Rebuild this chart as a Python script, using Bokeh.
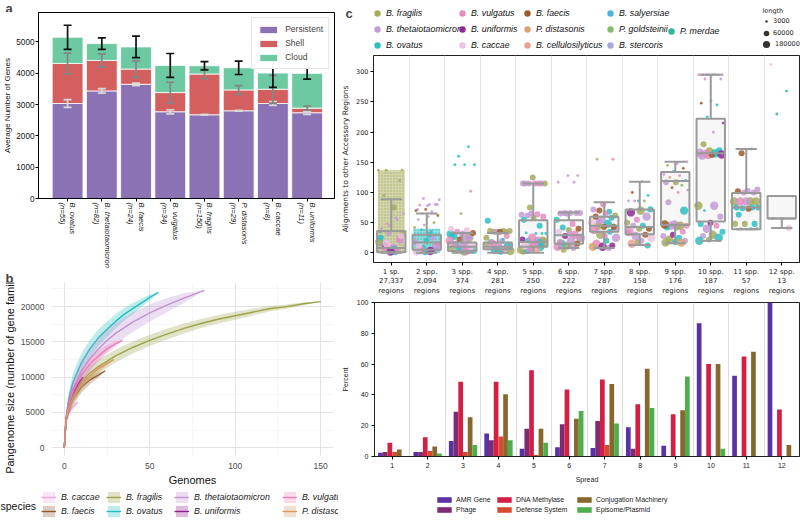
import numpy as np
from bokeh.plotting import figure
from bokeh.models import (ColumnDataSource, Range1d, FixedTicker, Legend, LegendItem,
                          Label, Whisker, TeeHead)
from bokeh.layouts import row, column
from bokeh.embed import file_html
from bokeh.resources import INLINE

SANS = "Liberation Sans"
MPL = "DejaVu Sans"

# ---------------- panel a data ----------------
a_species = ["B. ovatus", "B. thetaiotaomicron", "B. faecis", "B. vulgatus",
             "B. fragilis", "P. distasonis", "B. caccae", "B. uniformis"]
a_n = [55, 82, 24, 34, 150, 29, 8, 11]
a_persistent = [3034, 3436, 3647, 2770, 2674, 2801, 3034, 2738]
a_shell = [1279, 972, 486, 613, 1301, 666, 454, 148]
a_cloud = [835, 539, 708, 867, 264, 708, 518, 1110]
a_persistent_err = [125, 70, 40, 65, 10, 15, 60, 50]
a_shell_err = [330, 210, 265, 330, 150, 140, 445, 65]
a_cloud_err = [385, 185, 345, 380, 135, 215, 460, 185]

# ---------------- panel b data ----------------
caccae_g = [0, 1, 2, 3, 5, 8]
caccae_v = [0, 3800, 4600, 5100, 5800, 6500]
caccae_sd = [0, 600, 700, 700, 600, 0]
faecis_g = [0, 1, 2, 3, 5, 10, 15, 20, 24]
faecis_v = [0, 3800, 5000, 5800, 6900, 8600, 9600, 10300, 10900]
faecis_sd = [0, 600, 800, 900, 900, 800, 600, 400, 0]
fragilis_g = [0, 1, 2, 3, 5, 10, 15, 20, 30, 40, 50, 60, 70, 80, 90, 100, 110, 120, 130, 140, 150]
fragilis_v = [0, 3800, 5000, 5900, 7200, 9300, 10600, 11500, 13000, 14200, 15200, 16100,
              16900, 17600, 18200, 18700, 19200, 19700, 20000, 20400, 20700]
fragilis_sd = [0, 500, 700, 800, 900, 1000, 1000, 950, 900, 850, 800, 750, 700, 650, 600,
               550, 500, 400, 300, 200, 0]
ovatus_g = [0, 1, 2, 3, 5, 10, 15, 20, 25, 30, 35, 40, 45, 50, 55]
ovatus_v = [0, 4200, 6000, 7300, 9200, 12000, 14000, 15600, 16800, 17900, 18900, 19700,
            20500, 21300, 22000]
ovatus_sd = [0, 600, 900, 1100, 1300, 1400, 1300, 1200, 1100, 1000, 900, 800, 600, 400, 0]
theta_g = [0, 1, 2, 3, 5, 10, 15, 20, 25, 30, 40, 50, 60, 70, 82]
theta_v = [0, 4000, 5500, 6600, 8200, 10800, 12600, 14000, 15200, 16200, 17800, 19100,
           20200, 21200, 22300]
theta_sd = [0, 700, 1000, 1300, 1500, 1700, 1700, 1600, 1600, 1500, 1400, 1200, 1000, 700, 0]
uniformis_g = [0, 1, 2, 3, 5, 8, 11]
uniformis_v = [0, 4000, 5300, 6300, 7600, 9000, 10000]
uniformis_sd = [0, 700, 900, 1000, 900, 600, 0]
vulgatus_g = [0, 1, 2, 3, 5, 10, 15, 20, 25, 30, 34]
vulgatus_v = [0, 4000, 5500, 6500, 8000, 10300, 11900, 13000, 14000, 14700, 15200]
vulgatus_sd = [0, 600, 800, 900, 1000, 1000, 900, 800, 600, 400, 0]
distasonis_g = [0, 1, 2, 3, 5, 10, 15, 20, 25, 29]
distasonis_v = [0, 3800, 5000, 5800, 7000, 8900, 10200, 11200, 11900, 12500]
distasonis_sd = [0, 500, 600, 700, 700, 700, 600, 500, 300, 0]
b_species = ["B. caccae", "B. faecis", "B. fragilis", "B. ovatus",
             "B. thetaiotaomicron", "B. uniformis", "B. vulgatus", "P. distasonis"]

# ---------------- panel c (top) data ----------------
c_spread = [1, 2, 3, 4, 5, 6, 7, 8, 9, 10, 11, 12]
c_regions = [27337, 2094, 374, 281, 250, 222, 287, 158, 176, 187, 57, 13]
box_q1 = [1, 5, 3, 6, 10, 15, 35, 31, 46, 52, 39, 57]
box_med = [8, 17, 10, 10, 18, 29, 45, 43, 119, 165, 75, 57]
box_q3 = [36, 30, 17, 17, 54, 54, 60, 72, 134, 222, 99, 94]
box_lo = [0, 0, 0, 0, 0, 8, 8, 13, 16, 20, 39, 41]
box_hi = [89, 65, 33, 33, 115, 67, 84, 118, 151, 295, 172, 94]
# dense clouds of tiny points: spread, low, high, species
dense_spread = [1, 2]
dense_lo = [0, 0]
dense_hi = [137, 40]
dense_sp = ["fra", "ova"]

strip_1 = [(137, 'fra', 3000), (5, 'ova', 150000), (10, 'vul', 150000), (20, 'the', 60000), (2, 'uni', 150000),
           (25, 'ova', 60000), (3, 'vul', 60000), (15, 'cac', 150000), (30, 'fra', 60000), (8, 'the', 150000),
           (12, 'ova', 60000), (22, 'vul', 60000), (33, 'the', 60000), (18, 'fra', 150000), (1, 'ova', 60000),
           (12, 'uni', 60000), (28, 'cac', 60000), (6, 'the', 60000), (40, 'the', 3000), (55, 'the', 3000),
           (48, 'vul', 3000), (65, 'the', 3000), (75, 'fra', 60000), (95, 'fra', 3000), (120, 'fra', 3000),
           (45, 'the', 3000), (35, 'ova', 3000), (58, 'the', 3000), (137, 'fra', 3000), (137, 'fra', 3000)]
strip_2 = [(90, 'the', 3000), (88, 'the', 3000), (80, 'the', 3000), (79, 'vul', 3000), (80, 'the', 3000),
           (72, 'fae', 3000), (70, 'fae', 3000), (68, 'the', 3000), (65, 'cac', 3000), (62, 'fae', 3000),
           (60, 'the', 3000), (55, 'the', 3000), (50, 'fra', 3000), (46, 'the', 3000), (42, 'fra', 3000),
           (3, 'uni', 150000), (5, 'vul', 150000), (10, 'the', 150000), (20, 'ova', 60000), (2, 'cac', 150000),
           (25, 'the', 60000), (8, 'ova', 60000), (15, 'vul', 60000), (30, 'ova', 60000), (12, 'cac', 60000),
           (6, 'the', 60000), (1, 'ova', 60000), (18, 'the', 60000), (35, 'ova', 3000), (38, 'ova', 3000),
           (80, 'the', 3000), (78, 'the', 3000), (72, 'the', 3000)]
strip_3 = [(176, 'ova', 3000), (160, 'ova', 3000), (146, 'ova', 3000), (146, 'ova', 3000), (146, 'ova', 3000),
           (102, 'vul', 3000), (65, 'fra', 3000), (40, 'cac', 60000), (38, 'cac', 60000), (35, 'vul', 60000),
           (33, 'fae', 60000), (30, 'the', 150000), (28, 'ova', 150000), (25, 'fra', 150000), (22, 'fae', 60000),
           (20, 'vul', 150000), (18, 'the', 150000), (15, 'ova', 60000), (12, 'cac', 150000), (10, 'the', 150000),
           (8, 'fra', 60000), (5, 'vul', 150000), (5, 'ova', 60000), (3, 'ova', 60000), (2, 'fra', 150000),
           (14, 'vul', 60000), (26, 'the', 60000), (7, 'the', 60000), (31, 'ova', 150000), (1, 'the', 60000)]
strip_4 = [(53, 'ova', 60000), (36, 'fra', 60000), (35, 'fra', 60000), (36, 'fra', 60000), (35, 'fae', 60000),
           (36, 'fra', 60000), (34, 'fra', 60000), (35, 'the', 60000), (25, 'fra', 60000), (20, 'the', 60000),
           (15, 'vul', 150000), (12, 'ova', 150000), (10, 'the', 150000), (8, 'cac', 60000), (7, 'vul', 60000),
           (5, 'ova', 150000), (3, 'fra', 150000), (2, 'ova', 60000), (18, 'ova', 60000), (28, 'vul', 60000),
           (4, 'the', 60000), (14, 'fra', 60000), (22, 'ova', 3000)]
strip_5 = [(125, 'fra', 60000), (115, 'the', 60000), (115, 'vul', 60000), (115, 'the', 60000), (115, 'fra', 60000),
           (115, 'vul', 60000), (115, 'the', 60000), (115, 'the', 60000), (65, 'the', 60000), (63, 'the', 60000),
           (64, 'vul', 60000), (62, 'the', 60000), (60, 'vul', 60000), (58, 'fra', 60000), (55, 'ova', 60000),
           (45, 'ova', 60000), (75, 'fra', 60000), (32, 'ova', 3000), (32, 'ova', 3000), (33, 'ova', 3000),
           (32, 'ova', 3000), (25, 'vul', 150000), (22, 'uni', 60000), (20, 'the', 150000), (20, 'ova', 60000),
           (18, 'fra', 150000), (15, 'vul', 150000), (12, 'cac', 150000), (10, 'ova', 150000), (8, 'the', 150000),
           (5, 'fra', 150000), (5, 'cel', 60000), (3, 'ova', 60000), (22, 'fra', 60000), (14, 'the', 60000),
           (2, 'fra', 60000), (16, 'ova', 150000), (7, 'vul', 60000)]
strip_6 = [(128, 'the', 3000), (128, 'the', 3000), (117, 'the', 3000), (117, 'the', 3000), (66, 'the', 60000),
           (66, 'the', 60000), (66, 'the', 60000), (65, 'the', 60000), (66, 'the', 60000), (65, 'the', 60000),
           (55, 'ova', 60000), (48, 'vul', 60000), (42, 'ova', 60000), (40, 'fae', 60000), (38, 'fra', 60000),
           (35, 'cac', 60000), (30, 'vul', 150000), (28, 'uni', 60000), (25, 'the', 150000), (20, 'the', 150000),
           (15, 'ova', 150000), (15, 'fae', 60000), (12, 'fra', 150000), (10, 'vul', 150000), (8, 'the', 60000),
           (5, 'fra', 60000), (22, 'fra', 60000), (32, 'the', 60000), (18, 'vul', 60000)]
strip_7 = [(155, 'dis', 3000), (155, 'vul', 3000), (80, 'vul', 60000), (72, 'the', 60000), (68, 'ova', 60000),
           (70, 'fae', 60000), (62, 'fra', 60000), (65, 'vul', 60000), (60, 'fae', 60000), (58, 'ova', 60000),
           (55, 'the', 150000), (50, 'cac', 150000), (48, 'ova', 150000), (45, 'fra', 150000), (43, 'fae', 60000),
           (43, 'fae', 60000), (38, 'vul', 150000), (35, 'ova', 60000), (30, 'fra', 150000), (25, 'the', 150000),
           (20, 'ova', 60000), (15, 'vul', 150000), (12, 'uni', 60000), (10, 'uni', 150000), (10, 'dis', 150000),
           (8, 'the', 60000), (52, 'the', 60000), (40, 'the', 60000), (28, 'vul', 60000)]
strip_8 = [(118, 'the', 3000), (100, 'fae', 3000), (95, 'ova', 3000), (86, 'ova', 3000), (86, 'the', 3000),
           (86, 'fra', 3000), (86, 'vul', 3000), (72, 'ova', 60000), (70, 'fra', 150000), (67, 'uni', 150000),
           (60, 'the', 150000), (55, 'vul', 60000), (50, 'fra', 60000), (45, 'ova', 60000), (45, 'the', 60000),
           (40, 'fae', 60000), (40, 'fra', 60000), (35, 'vul', 150000), (30, 'fae', 60000), (28, 'the', 150000),
           (25, 'cac', 150000), (20, 'the', 60000), (15, 'cel', 150000), (12, 'ova', 60000), (18, 'fra', 60000),
           (33, 'the', 60000)]
strip_9 = [(151, 'the', 3000), (148, 'vul', 3000), (145, 'fra', 3000), (140, 'fae', 3000), (135, 'ova', 3000),
           (130, 'the', 3000), (128, 'vul', 3000), (125, 'dis', 3000), (120, 'ova', 3000), (117, 'fra', 60000),
           (117, 'the', 60000), (112, 'gol', 3000), (108, 'fae', 3000), (104, 'the', 3000), (100, 'vul', 3000),
           (84, 'the', 60000), (70, 'ova', 150000), (47, 'the', 150000), (47, 'fae', 150000), (45, 'fra', 150000),
           (45, 'the', 150000), (45, 'vul', 60000), (44, 'fra', 150000), (42, 'ova', 60000), (35, 'vul', 60000),
           (30, 'uni', 60000), (28, 'the', 60000), (25, 'ova', 60000), (22, 'fra', 150000), (20, 'the', 60000),
           (18, 'ova', 60000), (17, 'fra', 150000), (17, 'dis', 150000)]
strip_10 = [(295, 'the', 3000), (295, 'vul', 3000), (295, 'fra', 3000), (295, 'the', 3000), (295, 'cac', 3000),
            (295, 'the', 3000), (295, 'vul', 3000), (295, 'the', 3000), (288, 'vul', 3000), (288, 'the', 3000),
            (252, 'ova', 3000), (248, 'fae', 3000), (245, 'ova', 3000), (225, 'ova', 3000), (215, 'uni', 3000),
            (200, 'the', 3000), (180, 'fra', 60000), (170, 'ova', 60000), (168, 'fra', 150000), (166, 'the', 150000),
            (165, 'ova', 150000), (164, 'vul', 150000), (163, 'uni', 150000), (162, 'fae', 60000), (161, 'the', 150000),
            (165, 'ova', 60000), (160, 'vul', 60000), (78, 'fra', 150000), (78, 'the', 150000), (70, 'ova', 3000),
            (60, 'the', 60000), (50, 'uni', 60000), (48, 'ova', 60000), (45, 'vul', 60000), (40, 'the', 150000),
            (35, 'ova', 60000), (30, 'fra', 150000), (28, 'the', 60000), (25, 'ova', 150000), (22, 'fra', 60000),
            (20, 'ova', 150000)]
strip_11 = [(172, 'ova', 3000), (165, 'fae', 60000), (105, 'the', 60000), (103, 'the', 60000), (102, 'fae', 60000),
            (100, 'the', 60000), (100, 'the', 60000), (85, 'fra', 150000), (85, 'fra', 150000), (85, 'vul', 150000),
            (85, 'fra', 150000), (85, 'the', 150000), (75, 'ova', 60000), (75, 'ova', 60000), (74, 'ova', 60000),
            (75, 'ova', 60000), (73, 'fae', 60000), (63, 'ova', 60000), (48, 'ova', 60000), (48, 'fra', 60000),
            (48, 'fra', 60000), (40, 'ova', 3000), (40, 'fra', 3000), (40, 'ova', 3000)]
strip_12 = [(312, 'cac', 3000), (268, 'mer', 3000), (230, 'mer', 3000), (94, 'ova', 3000), (57, 'the', 3000),
            (57, 'vul', 3000), (41, 'cac', 60000)]
strips = [strip_1, strip_2, strip_3, strip_4, strip_5, strip_6, strip_7, strip_8, strip_9,
          strip_10, strip_11, strip_12]

c_codes = ["fra", "the", "ova", "vul", "uni", "cac", "fae", "dis", "cel", "sal", "gol", "ste", "mer"]
c_names = ["B. fragilis", "B. thetaiotaomicron", "B. ovatus", "B. vulgatus", "B. uniformis",
           "B. caccae", "B. faecis", "P. distasonis", "B. cellulosilyticus", "B. salyersiae",
           "P. goldsteinii", "B. stercoris", "P. merdae"]
size_lengths = [3000, 60000, 180000]

# ---------------- panel c (bottom) data ----------------
amr = [2.5, 3, 10, 15, 5, 6, 5.5, 19, 7, 86.5, 52.5, 100]
phage = [3, 3, 29, 10.5, 18, 21, 23, 5, 0, 0, 0, 0]
dna_methylase = [9, 12.5, 48.5, 48.5, 56, 43.5, 50, 34, 27.5, 60, 65, 30.5]
defense = [3, 3.5, 3, 13, 1, 0, 7.5, 0, 0, 0, 0, 0]
conjugation = [4.5, 6.5, 25.5, 40.5, 18, 24.5, 47, 57, 30, 60, 68, 7.5]
episome = [0, 2, 7.5, 10.5, 9, 29.5, 21.5, 31.5, 52, 5, 0, 0]
func_names = ["AMR Gene", "Phage", "DNA Methylase", "Defense System",
              "Conjugation Machinery", "Episome/Plasmid"]

# ---------------- styles ----------------
C_SP = {"fra": "#A6AC5E", "the": "#C49BD4", "ova": "#2DBFC2", "vul": "#E58CC0", "uni": "#8E2A95",
        "cac": "#EBC3DF", "fae": "#9A5A2B", "dis": "#D9A26E", "cel": "#E8A090", "sal": "#4DB2E0",
        "gol": "#84BD6C", "ste": "#A9A7DD", "mer": "#2BB59A"}
C_B = ["#EAAAD8", "#8C5A2E", "#9DA348", "#22BFC0", "#C091D2", "#8F1E8F", "#EA7FB9", "#D39A62"]
C_FUNC = ["#5A32A6", "#7D2B72", "#D41E44", "#D64B2F", "#86682C", "#4FAE4C"]


def no_align(p):
    try:
        p.frame_align = False
    except Exception:
        pass
    return p


def base_fig(**kw):
    p = figure(output_backend="svg", toolbar_location=None, **kw)
    p.background_fill_color = "white"
    p.border_fill_color = "white"
    return no_align(p)


def strip_fig(w, h):
    p = figure(frame_width=w, frame_height=h, x_range=Range1d(0, 1), y_range=Range1d(0, 1),
               x_axis_type=None, y_axis_type=None, output_backend="svg",
               toolbar_location=None, min_border=0, min_border_left=0, min_border_right=0,
               min_border_top=0, min_border_bottom=0)
    p.outline_line_color = None
    p.background_fill_color = "white"
    p.border_fill_color = "white"
    return no_align(p)


def letter(p, x, y, t):
    p.add_layout(Label(x=x, y=y, x_units="screen", y_units="screen", text=t, text_font=SANS,
                       text_font_size="13px", text_font_style="bold", text_baseline="top"))


def plain_legend(lg, font, size, style="normal", color="#111111"):
    lg.label_text_font = font
    lg.label_text_font_size = size
    lg.label_text_font_style = style
    lg.label_text_color = color
    lg.padding = 0
    lg.margin = 0
    lg.border_line_color = None
    lg.background_fill_alpha = 0


def style_axis(ax, font, size, color="#111111"):
    ax.major_label_text_font = font
    ax.major_label_text_font_size = size
    ax.major_label_text_color = color
    ax.axis_label_text_font = font
    ax.axis_label_text_font_style = "normal"
    ax.axis_label_text_color = color
    ax.minor_tick_line_color = None


# off-range anchor for legend-only renderers in the strip figures
OFF = [5.0]
OFF2 = [5.0, 6.0]
LEFT_W = 338
RIGHT_W = 462

# ================= panel a =================
xa = np.arange(len(a_species))
p_top = np.array(a_persistent, float)
s_top = p_top + np.array(a_shell)
c_top = s_top + np.array(a_cloud)
pe = np.array(a_persistent_err)
se = np.array(a_shell_err)
ce = np.array(a_cloud_err)
src_a = ColumnDataSource(dict(x=xa, p0=np.zeros(len(xa)), p1=p_top, s1=s_top, c1=c_top,
                              pl=p_top - pe, ph=p_top + pe, sl=s_top - se, sh=s_top + se,
                              cl=c_top - ce, ch=c_top + ce))
sa = strip_fig(LEFT_W, 12)
letter(sa, 5, 12, "a")

pa = base_fig(width=LEFT_W, height=258, x_range=Range1d(-0.85, 7.8), y_range=Range1d(0, 5940),
              min_border_left=35, min_border_right=4, min_border_top=0, min_border_bottom=71)
r_per = pa.vbar(x="x", width=0.9, bottom="p0", top="p1", source=src_a,
                fill_color="#8A72B5", line_color="white", line_width=0.8)
r_she = pa.vbar(x="x", width=0.9, bottom="p1", top="s1", source=src_a,
                fill_color="#D35F5F", line_color="white", line_width=0.8)
r_clo = pa.vbar(x="x", width=0.9, bottom="s1", top="c1", source=src_a,
                fill_color="#6DC9A1", line_color="white", line_width=0.8)
for lo, hi, col in [("pl", "ph", "#d8d8d8"), ("sl", "sh", "#858585"), ("cl", "ch", "#111111")]:
    w = Whisker(source=src_a, base="x", lower=lo, upper=hi, line_color=col, line_width=1.7,
                upper_head=TeeHead(size=8, line_color=col, line_width=1.7),
                lower_head=TeeHead(size=8, line_color=col, line_width=1.7))
    w.level = "overlay"
    pa.add_layout(w)
leg_a = Legend(items=[LegendItem(label="Persistent", renderers=[r_per]),
                      LegendItem(label="Shell", renderers=[r_she]),
                      LegendItem(label="Cloud", renderers=[r_clo])],
               location="top_right")
leg_a.label_text_font = SANS
leg_a.label_text_font_size = "8.5px"
leg_a.glyph_width = 22
leg_a.glyph_height = 9
leg_a.label_height = 12
leg_a.spacing = 2
leg_a.padding = 5
leg_a.margin = 5
leg_a.label_standoff = 6
leg_a.border_line_color = "#cccccc"
pa.add_layout(leg_a)
pa.grid.visible = False
pa.outline_line_color = "black"
pa.xaxis.ticker = FixedTicker(ticks=list(range(len(a_species))))
pa.xaxis.major_label_overrides = {int(i): f"{s}\n(n={n})" for i, (s, n) in enumerate(zip(a_species, a_n))}
pa.xaxis.major_label_orientation = "vertical"
pa.yaxis.ticker = FixedTicker(ticks=[0, 1000, 2000, 3000, 4000, 5000])
pa.yaxis.axis_label = "Average Number of Genes"
style_axis(pa.xaxis[0], SANS, "7.6px")
style_axis(pa.yaxis[0], SANS, "8.2px")
pa.xaxis.major_label_text_font_style = "italic"
pa.yaxis.axis_label_text_font_size = "8px"
pa.yaxis.axis_label_standoff = 1
for ax in (pa.xaxis[0], pa.yaxis[0]):
    ax.major_tick_out = 3
    ax.major_tick_in = 0
    ax.major_label_standoff = 1

sb = strip_fig(LEFT_W, 12)
letter(sb, 5, 12, "b")

# ================= panel b =================
pb = base_fig(width=LEFT_W, height=206, x_range=Range1d(-7.5, 157.5), y_range=Range1d(-1115, 23415),
              min_border_left=44, min_border_right=5, min_border_top=0, min_border_bottom=32)
pb.outline_line_color = None
b_series = [(caccae_g, caccae_v, caccae_sd), (faecis_g, faecis_v, faecis_sd),
            (fragilis_g, fragilis_v, fragilis_sd), (ovatus_g, ovatus_v, ovatus_sd),
            (theta_g, theta_v, theta_sd), (uniformis_g, uniformis_v, uniformis_sd),
            (vulgatus_g, vulgatus_v, vulgatus_sd), (distasonis_g, distasonis_v, distasonis_sd)]
for (g, v, sd), name, col in zip(b_series, b_species, C_B):
    g = np.array(g, float); v = np.array(v, float); sd = np.array(sd, float)
    pb.varea(x=g, y1=v - sd, y2=v + sd, fill_color=col, fill_alpha=0.3)
    pb.line(x=g, y=v, line_color=col, line_width=1.4)
pb.xaxis.ticker = FixedTicker(ticks=[0, 50, 100, 150], minor_ticks=[25, 75, 125])
pb.yaxis.ticker = FixedTicker(ticks=[0, 5000, 10000, 15000, 20000],
                              minor_ticks=[2500, 7500, 12500, 17500, 22500])
pb.xaxis.axis_label = "Genomes"
pb.yaxis.axis_label = "Pangenome size (number of gene families)"
for ax in (pb.xaxis[0], pb.yaxis[0]):
    style_axis(ax, SANS, "8.5px", "#4D4D4D")
    ax.axis_line_color = None
    ax.major_tick_line_color = None
    ax.major_tick_out = 0
    ax.major_tick_in = 0
    ax.axis_label_text_font_size = "11px"
    ax.axis_label_text_color = "#111111"
    ax.major_label_standoff = 3
    ax.axis_label_standoff = 2
for gr in (pb.xgrid[0], pb.ygrid[0]):
    gr.grid_line_color = "#E3E3E3"
    gr.grid_line_width = 1
    gr.minor_grid_line_color = "#F0F0F0"
    gr.minor_grid_line_width = 0.6

# legend strip for b  (legend location = bottom-left corner, measured from the strip bottom)
LB_H = 32
lb = strip_fig(LEFT_W, LB_H)
b_items = []
for name, col in zip(b_species, C_B):
    ra = lb.varea(x=OFF2, y1=[0, 0], y2=[1, 1], fill_color=col, fill_alpha=0.3)
    rl = lb.line(x=OFF2, y=[0, 0], line_color=col, line_width=1.4)
    b_items.append(LegendItem(label=name, renderers=[ra, rl]))
b_col_x = [41, 106, 174, 282]
for k in range(4):
    lg = Legend(items=[b_items[k * 2], b_items[k * 2 + 1]], location=(b_col_x[k], LB_H - 2 - 28),
                orientation="vertical")
    plain_legend(lg, SANS, "8.8px", "italic", "#1a1a1a")
    lg.glyph_width = 15
    lg.glyph_height = 14
    lg.label_height = 14
    lg.spacing = 0
    lg.label_standoff = 5
    lb.add_layout(lg)
lb.add_layout(Label(x=0, y=LB_H - 17, x_units="screen", y_units="screen", text="species",
                    text_font=SANS, text_font_size="10.5px", text_baseline="middle", text_color="#111111"))

# ================= panel c legend strip =================
LC_H = 54
lc = strip_fig(RIGHT_W, LC_H)
letter(lc, 7, LC_H - 5, "c")
col_groups = [["fra", "the", "ova"], ["vul", "uni", "cac"], ["fae", "dis", "cel"],
              ["sal", "gol", "ste"], ["mer"]]
col_x = [31, 116, 181, 264, 325]
col_top = [9, 9, 9, 9, 23]
for grp, gx, gt in zip(col_groups, col_x, col_top):
    items = []
    for c in grp:
        rr = lc.scatter(x=OFF, y=OFF, fill_color=C_SP[c], line_color=None)
        items.append(LegendItem(label=c_names[c_codes.index(c)], renderers=[rr]))
    h = 16 * len(grp) - 2 * (len(grp) - 1)
    lg = Legend(items=items, location=(gx, LC_H - gt - h), orientation="vertical")
    plain_legend(lg, SANS, "8.8px", "italic")
    lg.glyph_width = 16
    lg.glyph_height = 16
    lg.label_height = 12
    lg.spacing = -2
    lg.label_standoff = 1
    lc.add_layout(lg)
size_boxes = [6, 14, 18]
size_centers = [22, 33, 44]
for ln, bx, cy in zip(size_lengths, size_boxes, size_centers):
    rr = lc.scatter(x=OFF, y=OFF, fill_color="#333333", line_color=None)
    lg = Legend(items=[LegendItem(label=str(ln), renderers=[rr])],
                location=(428 - bx / 2, LC_H - cy - bx / 2))
    plain_legend(lg, MPL, "6.5px", "normal", "#222222")
    lg.glyph_width = bx
    lg.glyph_height = bx
    lg.label_height = bx
    lg.label_standoff = max(0, int(7 - bx / 2))
    lc.add_layout(lg)
lc.add_layout(Label(x=424, y=LC_H - 6, x_units="screen", y_units="screen", text="length",
                    text_font=MPL, text_font_size="6.5px", text_baseline="top", text_color="#222222"))

# ================= panel c top =================
pc1 = base_fig(width=RIGHT_W, height=243, x_range=Range1d(0.5, 12.5), y_range=Range1d(-16, 327),
               min_border_left=31, min_border_right=1, min_border_top=1, min_border_bottom=29)
cats = np.array(c_spread, float)
src_box = ColumnDataSource(dict(x=cats, q1=box_q1, med=box_med, q3=box_q3, lo=box_lo, hi=box_hi,
                                xl=cats - 0.4, xr=cats + 0.4, cl=cats - 0.3, cr=cats + 0.3))
pc1.vbar(x="x", width=0.8, bottom="q1", top="q3", source=src_box, fill_color="#f7f7f7", line_color=None)
pc1.rect(x=dense_spread, y=[(a + b) / 2 for a, b in zip(dense_lo, dense_hi)],
         width=0.76, height=[b - a for a, b in zip(dense_lo, dense_hi)],
         fill_color=[C_SP[s] for s in dense_sp], fill_alpha=0.5, line_color=None,
         hatch_pattern="dot", hatch_color=[C_SP[s] for s in dense_sp], hatch_scale=3.0,
         hatch_weight=1.6, hatch_alpha=1.0)
sp_pts = {c: ([], [], []) for c in c_codes}
for k, pts in enumerate(strips):
    for i, (yv, sp, ln) in enumerate(pts):
        off = (((i * 0.6180339887) + k * 0.37) % 1.0 - 0.5) * 0.72
        sp_pts[sp][0].append(c_spread[k] + off)
        sp_pts[sp][1].append(yv)
        sp_pts[sp][2].append(2.0 + 7.0 * np.sqrt(ln / 180000.0))
for c in c_codes:
    xs, ys, ss = sp_pts[c]
    pc1.scatter(x=xs, y=ys, size=ss, fill_color=C_SP[c], fill_alpha=0.85, line_color=None)
pc1.vbar(x="x", width=0.8, bottom="q1", top="q3", source=src_box, fill_alpha=0,
         line_color="#9a9a9a", line_width=2)
pc1.segment(x0="xl", y0="med", x1="xr", y1="med", source=src_box, line_color="#9a9a9a", line_width=2)
pc1.segment(x0="x", y0="lo", x1="x", y1="q1", source=src_box, line_color="#9a9a9a", line_width=2)
pc1.segment(x0="x", y0="q3", x1="x", y1="hi", source=src_box, line_color="#9a9a9a", line_width=2)
pc1.segment(x0="cl", y0="lo", x1="cr", y1="lo", source=src_box, line_color="#9a9a9a", line_width=2)
pc1.segment(x0="cl", y0="hi", x1="cr", y1="hi", source=src_box, line_color="#9a9a9a", line_width=2)
pc1.outline_line_color = "#222222"
pc1.ygrid.visible = False
pc1.xgrid.ticker = FixedTicker(ticks=[k + 0.5 for k in c_spread[:-1]])
pc1.xgrid.grid_line_color = "#e3e3e3"
pc1.xaxis.ticker = FixedTicker(ticks=c_spread)
pc1.xaxis.major_label_overrides = {
    int(k): f"{k} {'sp.' if k == 1 else 'spp.'}\n{n:,}\nregions" for k, n in zip(c_spread, c_regions)}
pc1.yaxis.ticker = FixedTicker(ticks=[0, 50, 100, 150, 200, 250, 300])
pc1.yaxis.axis_label = "Alignments to other Accessory Regions"
for ax in (pc1.xaxis[0], pc1.yaxis[0]):
    style_axis(ax, MPL, "7px", "#222222")
    ax.major_tick_out = 3
    ax.major_tick_in = 0
    ax.major_label_standoff = 2
    ax.axis_line_color = "#222222"
pc1.yaxis.axis_label_text_font_size = "7.5px"
pc1.yaxis.axis_label_standoff = 3
pc1.yaxis.major_label_text_font_size = "6.5px"

# ================= panel c bottom =================
pc2 = base_fig(width=RIGHT_W, height=193, x_range=Range1d(0.5, 12.5), y_range=Range1d(0, 100),
               min_border_left=31, min_border_right=1, min_border_top=5, min_border_bottom=34)
offsets = [-1 / 3, -0.2, -1 / 15, 1 / 15, 0.2, 1 / 3]
func_vals = [amr, phage, dna_methylase, defense, conjugation, episome]
for vals, off, col in zip(func_vals, offsets, C_FUNC):
    pc2.vbar(x=cats + off, width=0.133, bottom=0, top=vals, fill_color=col, line_color=None)
pc2.outline_line_color = "#222222"
pc2.ygrid.visible = False
pc2.xgrid.ticker = FixedTicker(ticks=[k + 0.5 for k in c_spread[:-1]])
pc2.xgrid.grid_line_color = "#dcdcdc"
pc2.xaxis.ticker = FixedTicker(ticks=c_spread)
pc2.yaxis.ticker = FixedTicker(ticks=[0, 20, 40, 60, 80, 100])
pc2.xaxis.axis_label = "Spread"
pc2.yaxis.axis_label = "Percent"
for ax in (pc2.xaxis[0], pc2.yaxis[0]):
    style_axis(ax, SANS, "7px", "#222222")
    ax.major_tick_out = 3
    ax.major_tick_in = 0
    ax.major_label_standoff = 3
    ax.axis_line_color = "#222222"
    ax.axis_label_text_font_size = "7px"
    ax.axis_label_standoff = 5

# legend strip for c bottom
LC2_H = 30
lc2 = strip_fig(RIGHT_W, LC2_H)
f_r = [lc2.vbar(x=OFF, top=[1], width=0.1, fill_color=col, line_color=None) for col in C_FUNC]
f_cols = [[0, 1], [2, 3], [4, 5]]
f_x = [97, 157, 237]
for grp, gx in zip(f_cols, f_x):
    lg = Legend(items=[LegendItem(label=func_names[i], renderers=[f_r[i]]) for i in grp],
                location=(gx, LC2_H - 4.5 - 19), orientation="vertical")
    plain_legend(lg, SANS, "7px", "normal", "#222222")
    lg.glyph_width = 18
    lg.glyph_height = 7
    lg.label_height = 9
    lg.spacing = 1
    lg.label_standoff = 3
    lc2.add_layout(lg)

layout = row(column(sa, pa, sb, pb, lb), column(lc, pc1, pc2, lc2))
open("out.html", "w").write(file_html(layout, INLINE))
